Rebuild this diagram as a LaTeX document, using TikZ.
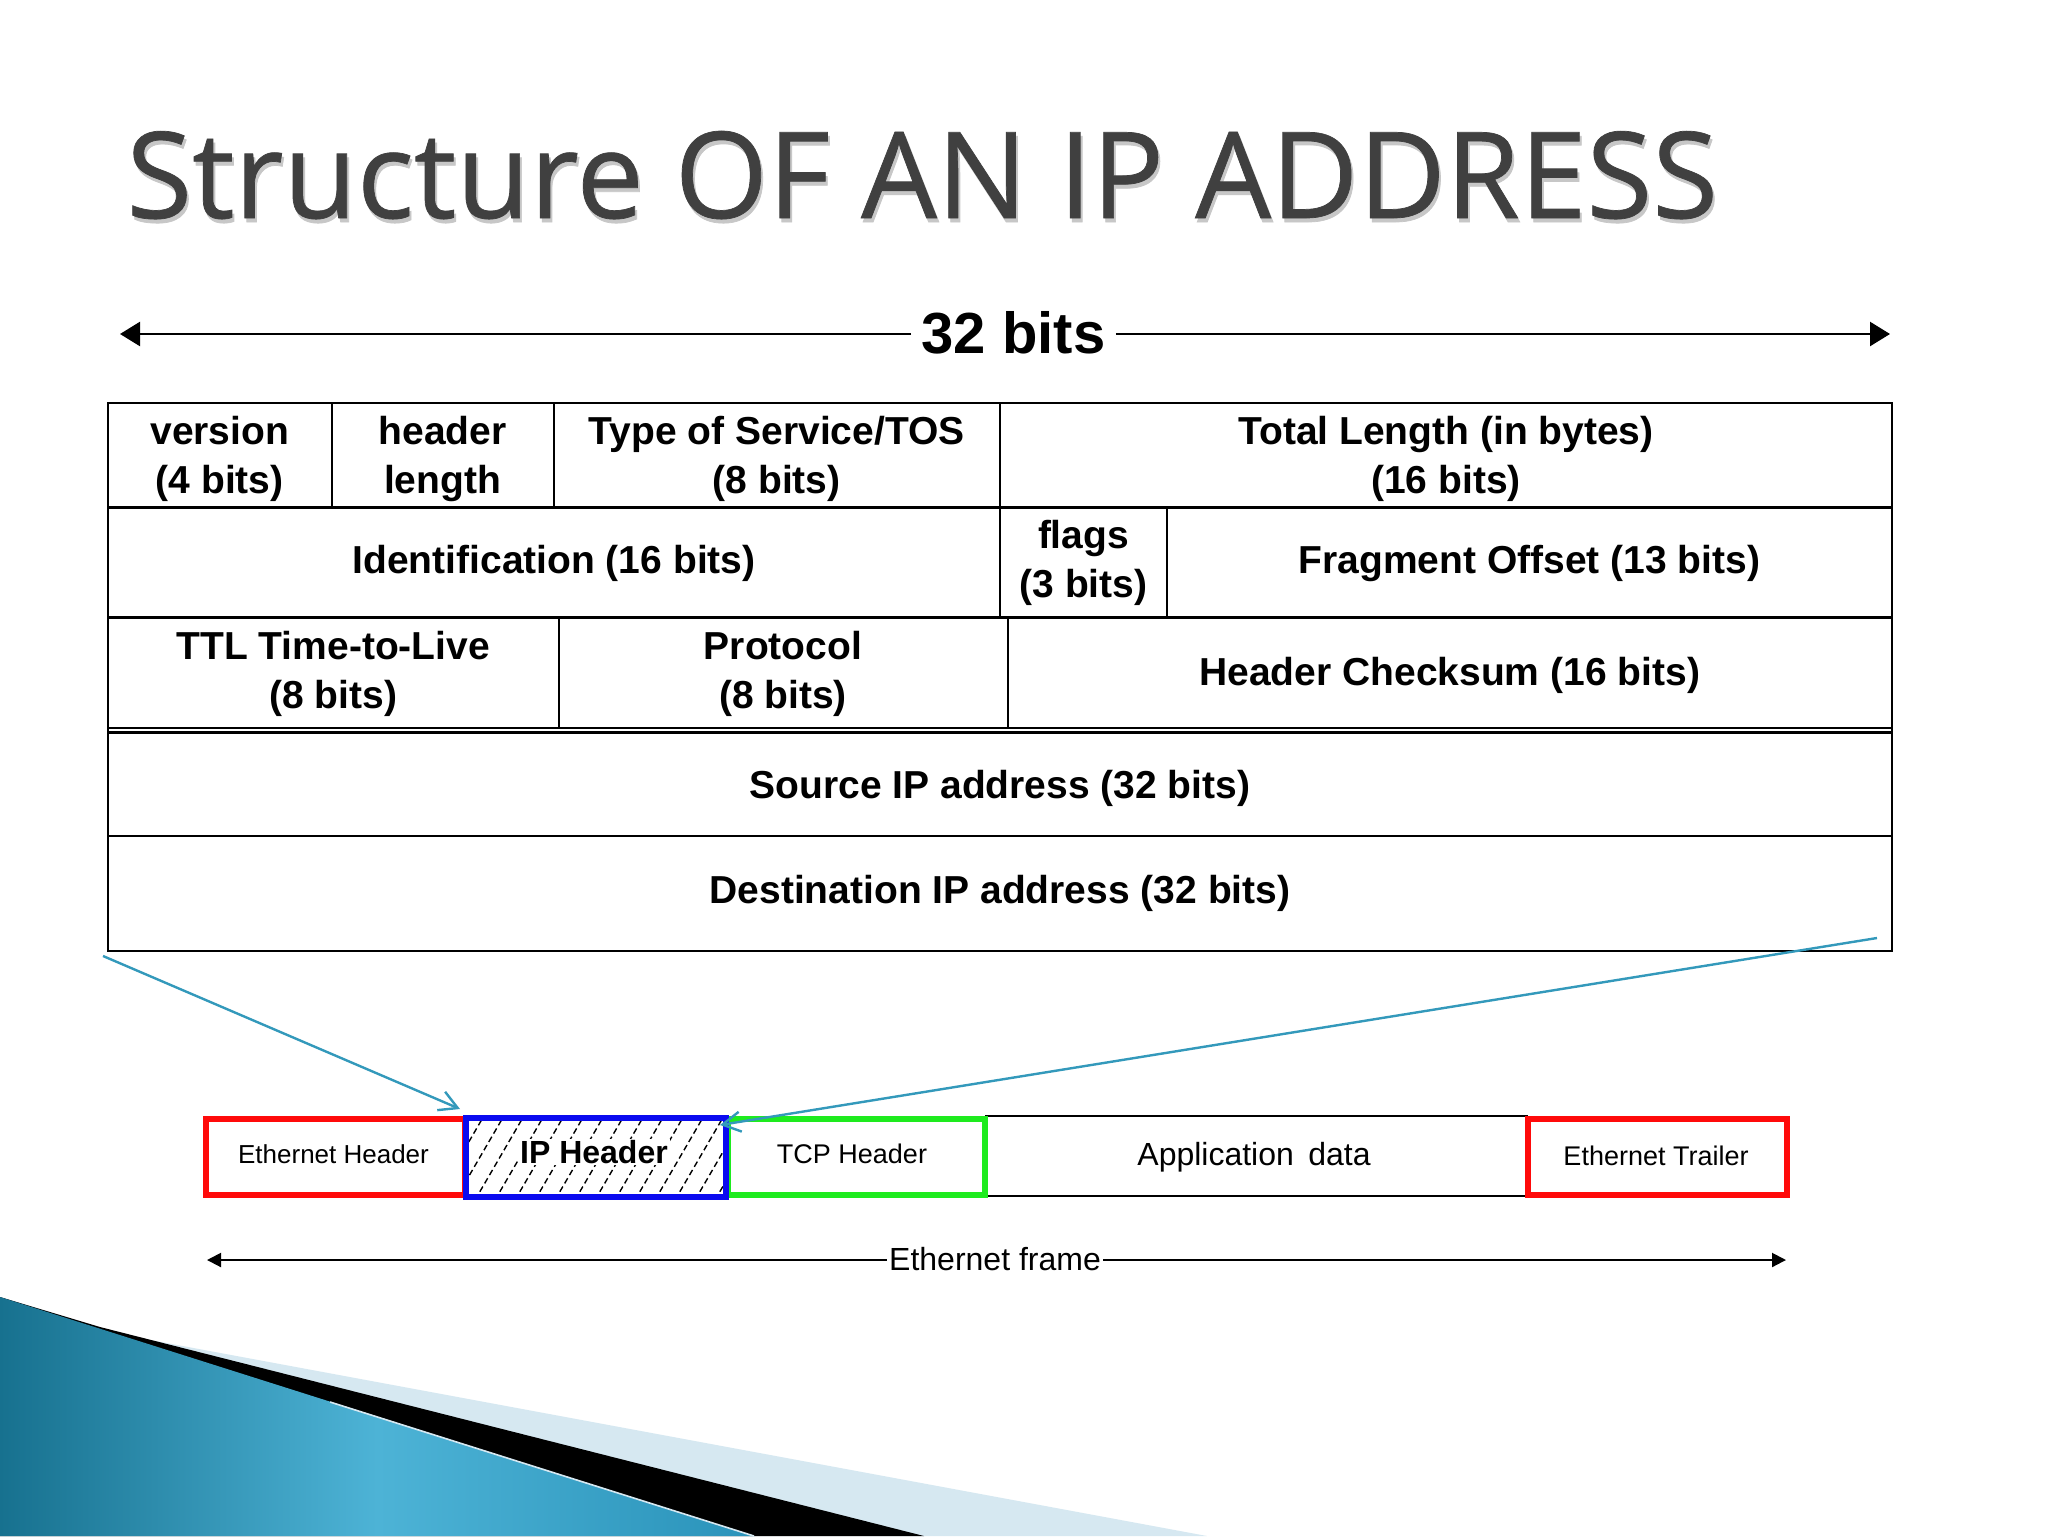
\documentclass[tikz,border=0pt]{standalone}
\usepackage{graphicx}
\usepackage{fontspec}
\setmainfont{Liberation Sans}
\newfontfamily\titlefont[FakeBold=0.6]{Open Sans}
\usetikzlibrary{arrows.meta,calc}
\definecolor{titlegray}{HTML}{404040}
\definecolor{arrowteal}{HTML}{3399BB}
\definecolor{framered}{HTML}{FF0A0A}
\definecolor{frameblue}{HTML}{0A0AF0}
\definecolor{framegreen}{HTML}{1EEB1E}
\definecolor{swlight}{HTML}{D6E8F1}
\definecolor{swdark}{HTML}{17718F}
\definecolor{swmid}{HTML}{4DB3D6}
\definecolor{swright}{HTML}{2A93BA}
\newcommand{\titletext}{\resizebox{795.5pt}{43.5pt}{\titlefont Structure OF AN IP ADDRESS}}
\begin{document}
\begin{tikzpicture}[x=0.5pt,y=-0.5pt,
  tline/.style={line width=1.25pt, black},
  cline/.style={line width=1pt, black},
  celltext/.style={font=\fontsize{19.5pt}{24.5pt}\selectfont\bfseries, align=center, inner sep=0pt},
  framelabel/.style={inner sep=0pt, anchor=base},
  framebox/.style={draw, line width=3pt, minimum height=38pt, inner sep=0pt},
  tealarrow/.style={draw=arrowteal, line width=1.2pt, -{Straight Barb[length=9pt,width=10pt]}},
  hatchline/.style={line width=0.7pt, dash pattern=on 3pt off 1.8pt},
  bigarrow/.style={line width=1.2pt, -{Triangle[length=10pt,width=12pt]}},
  smallarrow/.style={line width=1pt, -{Triangle[length=7pt,width=7pt]}}]
\useasboundingbox (0,0) rectangle (2048,1536);
\fill[white] (0,0) rectangle (2048,1536);

% decorative swoosh
\fill[swlight] (0,1297) -- (118,1334) -- (1207,1536) -- (0,1536) -- cycle;
\fill[black] (0,1297) -- (100,1327) -- (924,1536) -- (0,1536) -- cycle;
\shade[left color=swdark, right color=swright, middle color=swmid] (0,1297) -- (754,1536) -- (0,1536) -- cycle;
\draw[swlight, line width=0.8pt] (330,1402) -- (754,1536);

% title
\node[anchor=base west, inner sep=0pt, text=black!22] (titleshadow) at (128,222) {\titletext};
\node[anchor=base west, inner sep=0pt, text=titlegray] (title) at (126,218) {\titletext};

% 32 bits
\node[anchor=base, inner xsep=5pt, inner ysep=0pt, font=\fontsize{29pt}{34pt}\selectfont\bfseries] (bits) at (1013.5,353) {32 bits};
\coordinate (bitsL) at (120,334);
\coordinate (bitsR) at (1890,334);
\draw[bigarrow] (bits.west |- bitsL) -- (bitsL);
\draw[bigarrow] (bits.east |- bitsR) -- (bitsR);

% table lines
\draw[tline] (108,403) rectangle (1892,951);
\foreach \yy in {507.5,617.5,728,732.3,836} \draw[tline] (108,\yy) -- (1892,\yy);
\foreach \xx in {331.5,553.5,1000} \draw[cline] (\xx,403) -- (\xx,507.5);
\foreach \xx in {1000,1167} \draw[cline] (\xx,507.5) -- (\xx,617.5);
\foreach \xx in {558.5,1007.5} \draw[cline] (\xx,617.5) -- (\xx,728);

% table texts
\node[celltext] (ver) at (219.75,458.5) {version\\(4 bits)};
\node[celltext] (hlen) at (442.5,458.5) {header\\length};
\node[celltext] (tos) at (776.75,458.5) {Type of Service/TOS\\(8 bits)};
\node[celltext] (tlen) at (1446,458.5) {Total Length (in bytes)\\(16 bits)};
\node[celltext, anchor=base] (ident) at (554,573) {Identification (16 bits)};
\node[celltext] (flags) at (1083.5,563) {flags\\(3 bits)};
\node[celltext, anchor=base] (frag) at (1529.5,573) {Fragment Offset (13 bits)};
\node[celltext] (ttl) at (333.25,674) {TTL Time-to-Live\\(8 bits)};
\node[celltext] (proto) at (783,674) {Protocol\\(8 bits)};
\node[celltext, anchor=base] (chk) at (1449.75,685) {Header Checksum (16 bits)};
\node[celltext, anchor=base] (src) at (1000,798.3) {Source IP address (32 bits)};
\node[celltext, anchor=base] (dst) at (1000,903.3) {Destination IP address (32 bits)};

% ethernet frame
\draw[line width=1pt] (985,1116) -- (1528,1116);
\draw[line width=1pt] (985,1196) -- (1528,1196);
\node[framebox, draw=framered, minimum width=129.5pt] (eth) at (335.5,1157) {};
\node[framebox, draw=framegreen, minimum width=128.5pt] (tcp) at (856.5,1157) {};
\node[framebox, draw=framered, minimum width=129.5pt] (trl) at (1657.5,1157) {};
\begin{scope}
\clip (465.5,1118) rectangle (725.5,1196.5);
\foreach \i in {-3,...,14} \draw[hatchline] ({455+20*\i},1200) -- ++(50,-86);
\end{scope}
\node[framebox, draw=frameblue, minimum width=130pt, minimum height=39.25pt] (iph) at (595.5,1157.25) {};
\node[framelabel, font=\fontsize{13pt}{15pt}\selectfont] (ethl) at (333.5,1163) {Ethernet Header};
\node[framelabel, font=\fontsize{16pt}{18pt}\selectfont\bfseries, fill=white, inner xsep=1pt, inner ysep=0.5pt] (ipl) at (594,1163.3) {IP Header};
\node[framelabel, font=\fontsize{13.5pt}{15pt}\selectfont] (tcpl) at (852,1163) {TCP Header};
\node[framelabel, font=\fontsize{16pt}{18pt}\selectfont] (appl) at (1254,1165) {Application\hspace{0.45em}data};
\node[framelabel, font=\fontsize{13.5pt}{15pt}\selectfont] (trll) at (1656,1165) {Ethernet Trailer};

% ethernet frame arrow
\node[anchor=base, inner xsep=1pt, inner ysep=0pt, font=\fontsize{16pt}{18pt}\selectfont] (efr) at (995,1270) {Ethernet frame};
\coordinate (efrL) at (207,1260);
\coordinate (efrR) at (1786,1260);
\draw[smallarrow] (efr.west |- efrL) -- (efrL);
\draw[smallarrow] (efr.east |- efrR) -- (efrR);

% teal arrows from table to IP header
\coordinate (lstart) at (103,956);
\coordinate (ltip) at (460,1109);
\coordinate (rstart) at (1877,938);
\coordinate (rtip) at (720,1125);
\draw[tealarrow] (lstart) -- (ltip);
\draw[tealarrow] (rstart) -- (rtip);
\end{tikzpicture}
\end{document}
